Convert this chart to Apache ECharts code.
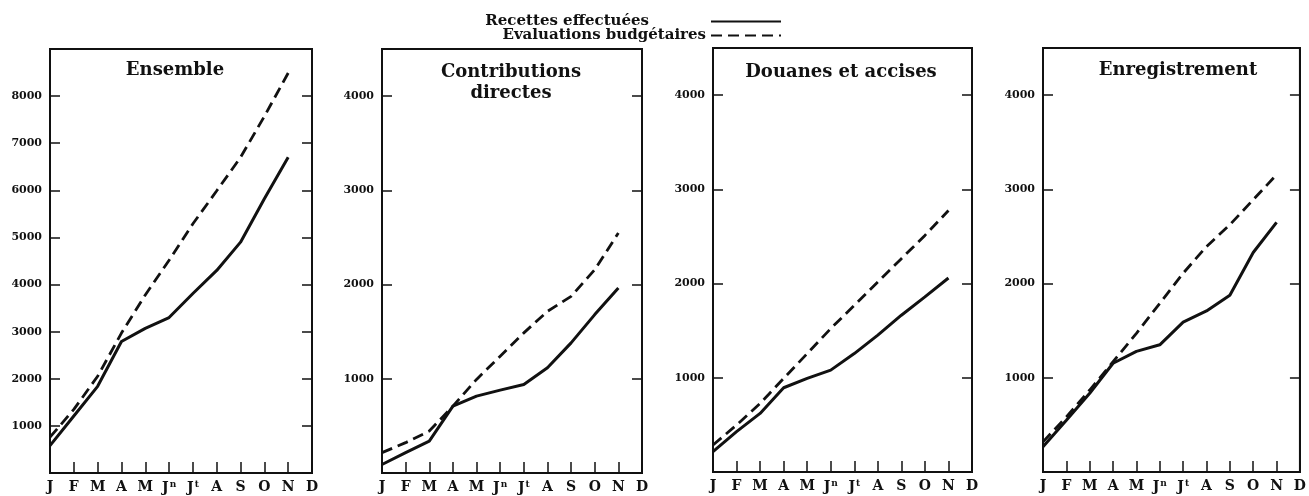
<!DOCTYPE html>
<html>
<head>
<meta charset="utf-8">
<script src="https://cdn.jsdelivr.net/npm/echarts@6/dist/echarts.min.js"></script>
<style>
  html, body { margin: 0; padding: 0; background: #fff; }
  #chart { width: 1309px; height: 496px; }
</style>
</head>
<body>
<div id="chart"></div>
<script>
const months = ['J', 'F', 'M', 'A', 'M', 'Jn', 'Jt', 'A', 'S', 'O', 'N', 'D']
const panelTitles = ['Ensemble', 'Contributions\ndirectes', 'Douanes et accises', 'Enregistrement']
const recettesName = 'Recettes effectuées'
const evaluationsName = 'Evaluations budgétaires'

// recettes effectuées (trait plein), janvier -> novembre
const ensembleRecettes = [580, 1210, 1840, 2790, 3070, 3300, 3810, 4300, 4900, 5820, 6700]
const contributionsRecettes = [90, 216, 339, 710, 816, 880, 940, 1117, 1381, 1681, 1964]
const douanesRecettes = [216, 428, 622, 894, 993, 1081, 1257, 1452, 1664, 1858, 2059]
const enregistrementRecettes = [268, 550, 836, 1154, 1280, 1350, 1590, 1710, 1876, 2330, 2650]

// evaluations budgétaires (tirets)
const ensembleEvaluations = [760, 1350, 2053, 2970, 3780, 4515, 5290, 5990, 6700, 7570, 8490]
const contributionsEvaluations = [216, 322, 445, 710, 993, 1240, 1487, 1716, 1875, 2158, 2547]
const douanesEvaluations = [286, 498, 728, 993, 1257, 1522, 1769, 2017, 2264, 2511, 2775]
const enregistrementEvaluations = [320, 585, 870, 1170, 1472, 1790, 2110, 2393, 2624, 2890, 3155]

const yTicksEnsemble = [1000, 2000, 3000, 4000, 5000, 6000, 7000, 8000]
const yTicksOther = [1000, 2000, 3000, 4000]
const yMax = [9000, 4500, 4500, 4500]

const recettes = [ensembleRecettes, contributionsRecettes, douanesRecettes, enregistrementRecettes]
const evaluations = [ensembleEvaluations, contributionsEvaluations, douanesEvaluations, enregistrementEvaluations]
const yTicks = [yTicksEnsemble, yTicksOther, yTicksOther, yTicksOther]

const serif = 'DejaVu Serif'
const ink = '#111'

const grids = [
  { left: 50, top: 49, width: 262, height: 424 },
  { left: 382, top: 49, width: 260, height: 424 },
  { left: 713, top: 48, width: 259, height: 424 },
  { left: 1043, top: 48, width: 260, height: 424 }
]
const titleCenters = [170, 506, 836, 1173]
const titleTops = [55, 57, 57, 55]

const chart = echarts.init(document.getElementById('chart'))

const grid = []
const xAxis = []
const yAxis = []
const series = []
const title = []

for (let i = 0; i < 4; i++) {
  grid.push(Object.assign({ show: true, borderColor: ink, borderWidth: 2 }, grids[i]))

  title.push({
    text: panelTitles[i],
    left: titleCenters[i],
    top: titleTops[i],
    textAlign: 'center',
    textStyle: {
      fontFamily: serif,
      fontSize: 18,
      fontWeight: 'bold',
      color: ink,
      lineHeight: 21
    }
  })

  xAxis.push({
    type: 'category',
    gridIndex: i,
    data: months,
    boundaryGap: false,
    axisLine: { show: true, lineStyle: { color: ink, width: 2 } },
    axisTick: { show: true, inside: true, length: 11, lineStyle: { color: ink, width: 1.5 } },
    axisLabel: {
      margin: 7,
      interval: 0,
      formatter: (v) => v.length > 1 ? '{m|' + v[0] + '}{s|' + v.slice(1) + '}' : '{m|' + v + '}',
      rich: {
        m: { fontFamily: serif, fontSize: 14, fontWeight: 'bold', color: ink },
        s: { fontFamily: serif, fontSize: 9, fontWeight: 'bold', color: ink, padding: [0, 0, 7, 1] }
      }
    },
    splitLine: { show: false }
  })

  const ticks = yTicks[i]
  const yBase = {
    type: 'value',
    gridIndex: i,
    min: 0,
    max: yMax[i],
    interval: 1000,
    splitLine: { show: false },
    axisLine: { show: true, lineStyle: { color: ink, width: 2 } },
    axisTick: { show: true, inside: true, length: 10, lineStyle: { color: ink, width: 1.5 } }
  }
  yAxis.push(Object.assign({}, yBase, {
    position: 'left',
    axisLabel: {
      margin: 8,
      fontFamily: serif,
      fontSize: 11,
      fontWeight: 'bold',
      color: ink,
      formatter: (v) => ticks.indexOf(v) >= 0 ? String(v) : ''
    }
  }))
  yAxis.push(Object.assign({}, yBase, {
    position: 'right',
    axisLabel: { show: false }
  }))

  series.push({
    name: recettesName,
    type: 'line',
    xAxisIndex: i,
    yAxisIndex: 2 * i,
    data: recettes[i],
    symbol: 'none',
    lineStyle: { color: ink, width: 3 },
    itemStyle: { color: ink },
    animation: false
  })
  series.push({
    name: evaluationsName,
    type: 'line',
    xAxisIndex: i,
    yAxisIndex: 2 * i,
    data: evaluations[i],
    symbol: 'none',
    lineStyle: { color: ink, width: 2.8, type: [11, 6] },
    itemStyle: { color: ink },
    animation: false
  })
}

const legendText = {
  fontFamily: serif,
  fontSize: 15,
  fontWeight: 'bold',
  color: ink
}
const hiddenSymbol = { color: 'rgba(0,0,0,0)', borderWidth: 0 }

chart.setOption({
  backgroundColor: '#fff',
  animation: false,
  title,
  legend: [{
    data: [recettesName],
    right: 527,
    top: 14,
    padding: 0,
    align: 'right',
    itemWidth: 70,
    itemHeight: 10,
    selectedMode: false,
    itemStyle: hiddenSymbol,
    textStyle: Object.assign({ padding: [0, 57, 8, 0] }, legendText)
  }, {
    data: [evaluationsName],
    right: 527,
    top: 28,
    padding: 0,
    align: 'right',
    itemWidth: 70,
    itemHeight: 10,
    selectedMode: false,
    itemStyle: hiddenSymbol,
    textStyle: Object.assign({ padding: [0, 0, 0, 0] }, legendText)
  }],
  grid,
  xAxis,
  yAxis,
  series
})
</script>
</body>
</html>
